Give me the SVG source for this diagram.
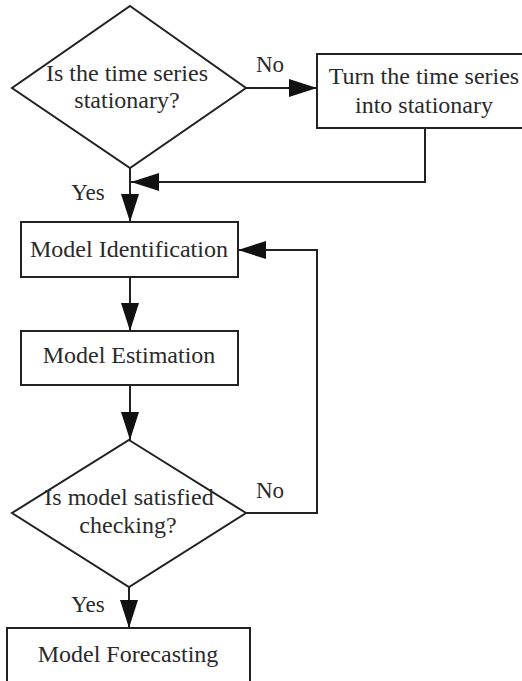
<svg xmlns="http://www.w3.org/2000/svg" width="522" height="681" viewBox="0 0 522 681">
<style>
.shape{fill:#fff;stroke:#222;stroke-width:2}
.conn{fill:none;stroke:#222;stroke-width:2}
text{font-family:'Liberation Serif',Tinos,'Times New Roman',Times,'DejaVu Serif',serif;font-size:24px;fill:#2a2a2a;text-anchor:middle}
.lbl{font-size:23px}
</style>
<defs>
<marker id="ah" markerUnits="userSpaceOnUse" markerWidth="28" markerHeight="18" refX="28" refY="9" orient="auto">
<path d="M0,0 L28,9 L0,18 Z" fill="#111"/>
</marker>
</defs>
<rect width="522" height="681" fill="#fff"/>
<g id="connectors">
<line class="conn" x1="246" y1="88" x2="317" y2="88" marker-end="url(#ah)"/>
<polyline class="conn" points="425,128 425,182 131,182" marker-end="url(#ah)"/>
<line class="conn" x1="130" y1="168" x2="130" y2="222" marker-end="url(#ah)"/>
<line class="conn" x1="130" y1="277" x2="130" y2="331" marker-end="url(#ah)"/>
<line class="conn" x1="130" y1="385" x2="130" y2="440" marker-end="url(#ah)"/>
<polyline class="conn" points="246,513 317,513 317,250 238,250" marker-end="url(#ah)"/>
<line class="conn" x1="129" y1="587" x2="129" y2="628" marker-end="url(#ah)"/>
<text class="lbl" x="270" y="72">No</text>
<text class="lbl" x="88" y="200">Yes</text>
<text class="lbl" x="270" y="498">No</text>
<text class="lbl" x="88" y="612">Yes</text>
</g>
<g id="stationary-check">
<polygon class="shape" points="130,6 246,88 130,168 12,88"/>
<text x="127" y="81">Is the time series</text>
<text x="127" y="108">stationary?</text>
</g>
<g id="make-stationary">
<rect class="shape" x="317" y="54" width="215" height="74"/>
<text x="424" y="84">Turn the time series</text>
<text x="424" y="113">into stationary</text>
</g>
<g id="model-identification">
<rect class="shape" x="21" y="222" width="217" height="55"/>
<text x="129" y="257">Model Identification</text>
</g>
<g id="model-estimation">
<rect class="shape" x="21" y="331" width="217" height="54"/>
<text x="129" y="363">Model Estimation</text>
</g>
<g id="model-check">
<polygon class="shape" points="129,440 246,513 129,587 12,513"/>
<text x="129" y="505">Is model satisfied</text>
<text x="128" y="533">checking?</text>
</g>
<g id="model-forecasting">
<rect class="shape" x="7" y="628" width="243" height="70"/>
<text x="128" y="662">Model Forecasting</text>
</g>
</svg>
